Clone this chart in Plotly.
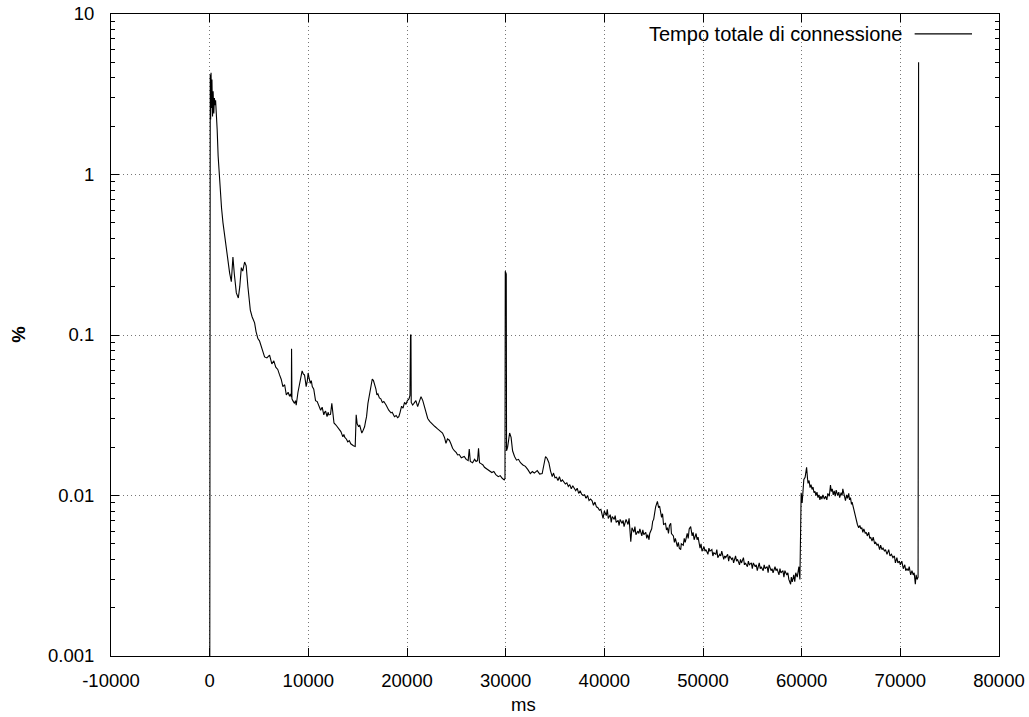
import plotly.graph_objects as go

# Connection-time distribution: time (ms) vs share of connections (%)
t_head = [0, 20, 60, 100, 140, 180, 230, 290, 350, 420, 480, 540, 600, 680, 760, 860,
          940, 1050, 1200, 1350, 1500, 1690, 1850, 2024, 2196, 2358, 2500, 2702, 2904,
          3050, 3208, 3350, 3542, 3700, 3876, 4119, 4300, 4554, 4700, 4888, 5050, 5232,
          5400, 5566, 5800]
pct_head = [0.0001, 3.0, 4.2, 2.2, 4.3, 2.6, 3.9, 2.3, 3.3, 2.4, 3.0, 2.7, 2.9, 2.5, 1.9, 1.3,
            1.07, 0.85, 0.62, 0.5, 0.42, 0.34, 0.29, 0.243, 0.215, 0.306, 0.24, 0.183, 0.17,
            0.2, 0.263, 0.25, 0.285, 0.27, 0.2, 0.143, 0.13, 0.119, 0.105, 0.095, 0.092, 0.0845,
            0.078, 0.073, 0.072]

t_early = [6072, 6300, 6500, 6700, 6900, 7084, 7250, 7420, 7600, 7770, 7950, 8100, 8200,
           8280, 8300, 8320, 8340, 8430, 8600, 8700, 8770, 8950, 9110, 9250, 9370, 9500,
           9610, 9700, 9780, 9900, 9980, 10050, 10200, 10300, 10400, 10550, 10650, 10730,
           10900, 11070, 11250, 11400, 11570, 11650, 11750, 11900, 12000, 12080, 12250,
           12380, 12450, 12600, 12800, 13000, 13150, 13300, 13500, 13600, 13700, 13850,
           14000, 14150, 14300, 14450, 14570, 14750, 14850, 14950, 15100, 15200, 15300,
           15420, 15500, 15600, 15700, 15800, 15900, 16040, 16150, 16250, 16380, 16480,
           16600, 16700, 16850, 16950, 17050, 17200, 17350, 17500, 17650, 17880, 18000,
           18150, 18380, 18500, 18730, 18900, 19050, 19170, 19300, 19450, 19600, 19750,
           19900]
pct_early = [0.075, 0.066, 0.069, 0.063, 0.061, 0.0564, 0.053, 0.0477, 0.049, 0.0423, 0.044,
             0.0415, 0.043, 0.041, 0.082, 0.081, 0.040, 0.039, 0.0375, 0.039, 0.0365, 0.044,
             0.05, 0.056, 0.0597, 0.057, 0.0564, 0.052, 0.0477, 0.052, 0.058, 0.055, 0.05,
             0.052, 0.0477, 0.046, 0.043, 0.039, 0.0385, 0.0358, 0.034, 0.0355, 0.0318, 0.033,
             0.0335, 0.031, 0.033, 0.0318, 0.032, 0.0375, 0.033, 0.0283, 0.0275, 0.0263,
             0.0255, 0.025, 0.0232, 0.024, 0.023, 0.0225, 0.0216, 0.022, 0.021, 0.0205,
             0.0204, 0.0202, 0.0318, 0.028, 0.0268, 0.0275, 0.026, 0.0245, 0.025, 0.026,
             0.0268, 0.029, 0.031, 0.0375, 0.041, 0.045, 0.05, 0.0532, 0.052, 0.05, 0.046,
             0.0423, 0.043, 0.0405, 0.04, 0.038, 0.0385, 0.0366, 0.035, 0.034, 0.0327, 0.033,
             0.031, 0.0315, 0.0305, 0.031, 0.033, 0.036, 0.035, 0.038, 0.037]

t_mid = [20040, 20200, 20300, 20360, 20400, 20430, 20570, 20700, 20900, 21080, 21250, 21420,
         21600, 21750, 21900, 22100, 22300, 22600, 22800, 23100, 23300, 23600, 23800, 23950,
         24100, 24290, 24450, 24620, 24800, 25000, 25130, 25300, 25500, 25800, 26000, 26200,
         26310, 26420, 26650, 26850, 27000, 27150, 27250, 27350, 27500, 27700, 27850, 28000,
         28200, 28400, 28600, 28800, 29000, 29250, 29450, 29650, 29850, 29930, 29960, 30060,
         30090, 30200, 30300, 30400, 30550, 30700, 30900, 31100, 31300, 31500, 31750, 32000,
         32250, 32500, 32700, 32900, 33200, 33450, 33700, 33900, 34040, 34200, 34380, 34550,
         34720, 34850, 35000, 35150, 35300, 35450, 35600, 35750, 35900, 36050, 36200, 36350,
         36500, 36650, 36800, 36950, 37100, 37250, 37400, 37550, 37700, 37850, 38000, 38150,
         38300, 38450, 38600, 38750, 38900, 39050, 39200, 39350, 39500, 39650, 39750]
pct_mid = [0.039, 0.040, 0.042, 0.1, 0.1, 0.038, 0.0366, 0.0375, 0.039, 0.0358, 0.038, 0.0413,
           0.039, 0.0358, 0.033, 0.0302, 0.029, 0.0275, 0.027, 0.026, 0.0255, 0.0245, 0.023,
           0.0211, 0.0225, 0.0221, 0.021, 0.0197, 0.019, 0.0185, 0.0179, 0.018, 0.0172, 0.0175,
           0.0168, 0.0165, 0.0195, 0.0163, 0.016, 0.0168, 0.0163, 0.0165, 0.0197, 0.016, 0.0158,
           0.0155, 0.015, 0.0148, 0.0145, 0.0142, 0.0139, 0.0141, 0.0135, 0.0131, 0.0133,
           0.0128, 0.0125, 0.0128, 0.25, 0.24, 0.019, 0.02, 0.023, 0.0245, 0.023, 0.019, 0.0175,
           0.0166, 0.0168, 0.016, 0.0155, 0.0152, 0.0145, 0.0137, 0.0141, 0.0138, 0.0143,
           0.0136, 0.0137, 0.0155, 0.0175, 0.017, 0.016, 0.0142,
           0.0131, 0.0138, 0.0129, 0.0130, 0.0124, 0.0131, 0.0122, 0.0125, 0.0121, 0.0118,
           0.0120, 0.0114, 0.0117, 0.0110, 0.0115, 0.0111, 0.0107, 0.0111, 0.0103, 0.0107,
           0.0102, 0.0100, 0.0101, 0.0096, 0.0100, 0.0093, 0.0095, 0.0093, 0.0087, 0.0091,
           0.0085, 0.0084, 0.0081, 0.0082, 0.0076]

t_late = [39870, 40000, 40200, 40300, 40400, 40600, 40700, 40800, 41000, 41100, 41200, 41400,
          41500, 41600, 41800, 41900, 42000, 42200, 42400, 42510, 42600, 42680, 42800, 43000,
          43100, 43200, 43400, 43500, 43600, 43800, 43900, 44000, 44200, 44300, 44400, 44530,
          44600, 44800, 44900, 45000, 45200, 45380, 45500, 45600, 45800, 45900, 46000, 46200,
          46300, 46400, 46500, 46600, 46730, 46800, 47000, 47100, 47200, 47400, 47500, 47600,
          47740, 47800, 48000, 48100, 48200, 48400, 48500, 48600, 48750, 48900, 49000, 49100,
          49300, 49400, 49500, 49700, 49800, 49900, 50100, 50200, 50300, 50500, 50600, 50700,
          50900, 51000, 51100, 51300, 51400, 51500, 51700, 51800, 51900, 52100, 52200, 52300,
          52500, 52600, 52700, 52900, 53000, 53100, 53300, 53400, 53500, 53700, 53800, 53900,
          54100, 54200, 54300, 54500, 54600, 54700, 54900, 55000, 55100, 55300, 55400, 55500,
          55700, 55800, 55900, 56100, 56200, 56300, 56500, 56600, 56700, 56900, 57000, 57100,
          57300, 57400, 57500, 57700, 57800, 57900, 58100, 58200, 58300, 58500, 58600, 58700,
          58880, 58950, 59050, 59200, 59300, 59400, 59550, 59650, 59720, 59820]
pct_late = [0.0072, 0.0080, 0.0075, 0.0082, 0.0072, 0.0076, 0.0068, 0.0074, 0.0071, 0.0075,
            0.0068, 0.0070, 0.0065, 0.0071, 0.0067, 0.0070, 0.0064, 0.0071, 0.0066, 0.0072,
            0.0062, 0.00515, 0.0063, 0.0059, 0.0064, 0.0057, 0.0060, 0.0058, 0.0062, 0.0056,
            0.0061, 0.0057, 0.0059, 0.0054, 0.0057, 0.0053, 0.0058, 0.0062, 0.0069, 0.0071,
            0.0085, 0.0092, 0.0084, 0.0086, 0.0073, 0.0077, 0.0066, 0.0067, 0.0061, 0.0063,
            0.0058, 0.0065, 0.0067, 0.0058, 0.0056, 0.0051, 0.0054, 0.0048, 0.0051, 0.0047,
            0.0046, 0.0050, 0.0049, 0.0054, 0.0051, 0.0058, 0.0054, 0.0062, 0.0064, 0.0056,
            0.0059, 0.0053, 0.0058, 0.0053, 0.0055, 0.0047, 0.0050, 0.0045,
            0.0048, 0.0045, 0.0046, 0.0043, 0.0047, 0.0045, 0.0046, 0.0042, 0.0044, 0.0043,
            0.0046, 0.0041, 0.0043, 0.0042, 0.0045, 0.0040, 0.0042, 0.0041, 0.0043, 0.0039,
            0.0042, 0.0040, 0.0041, 0.0038, 0.0042, 0.0039, 0.0040, 0.0037, 0.0040, 0.0038,
            0.0041, 0.0037, 0.0038, 0.0036, 0.0039, 0.0037, 0.0038, 0.0035, 0.0038, 0.0036,
            0.0037, 0.0034, 0.0038, 0.0035, 0.0036, 0.0034, 0.0037, 0.0035, 0.0036, 0.0033,
            0.0037, 0.0034, 0.0035, 0.0033, 0.0036, 0.0034, 0.0035, 0.0032, 0.0035, 0.0033,
            0.0034, 0.0031, 0.0034, 0.0032, 0.0033, 0.0030,
            0.0028, 0.0031, 0.0029, 0.0032, 0.0029, 0.0033, 0.0031, 0.0035, 0.0036, 0.0030]

t_tail = [59900, 59950, 60050, 60150, 60220, 60350, 60450, 60500, 60600, 60650, 60750, 60850,
          60950, 61050, 61150, 61250, 61350, 61450, 61550, 61650, 61750, 61850, 61950, 62050,
          62150, 62300, 62420, 62550, 62650, 62800, 62920, 63000, 63100, 63200, 63300, 63400,
          63500, 63650, 63760, 63850, 64000, 64100, 64170, 64300, 64440, 64550, 64650, 64770,
          64850, 64950, 65050, 65110, 65250, 65350, 65450, 65550, 65650, 65780, 65900, 66000,
          66100, 66200, 66300, 66450, 66550, 66650, 66800, 66900, 67000, 67130, 67250, 67400,
          67500, 67640, 67750, 67900, 68000, 68140, 68250, 68400, 68500, 68650, 68820, 68950,
          69100, 69250, 69400, 69500, 69650, 69750, 69900, 70000, 70150, 70300, 70450, 70550,
          70670, 70800, 70900, 71050, 71180, 71300, 71400, 71520, 71600, 71700, 71800, 71850]
pct_tail = [0.0053, 0.0104, 0.0090, 0.0118, 0.0126, 0.0130, 0.0146, 0.0150, 0.0126, 0.0119,
            0.0124, 0.0112, 0.0117, 0.0109, 0.0113, 0.0104, 0.0106, 0.0100, 0.0105, 0.0097,
            0.0101, 0.0094, 0.0099, 0.0095, 0.0101, 0.0095, 0.0099, 0.0094, 0.0103, 0.0099,
            0.0116, 0.0106, 0.0110, 0.0101, 0.0107, 0.0099, 0.0108, 0.0100, 0.0105, 0.0097,
            0.0104, 0.0100, 0.0110, 0.0102, 0.0093, 0.0101, 0.0096, 0.0103, 0.0094, 0.0097,
            0.0088, 0.0091, 0.0083, 0.0079, 0.0073, 0.0069, 0.0066, 0.0063, 0.0065, 0.0062,
            0.0063, 0.0059, 0.0062, 0.0058, 0.0059, 0.0056, 0.0059, 0.0054, 0.0055, 0.0052,
            0.0055, 0.0050, 0.0051, 0.0049, 0.0050, 0.0046, 0.0049, 0.0046, 0.0047, 0.0045,
            0.0046, 0.0043, 0.0046, 0.0042, 0.0043, 0.0041, 0.0042, 0.0038, 0.0041, 0.0038,
            0.0039, 0.0037, 0.0039, 0.0035, 0.0037, 0.0034, 0.0035, 0.0034, 0.0036, 0.0032,
            0.0034, 0.0032, 0.0033, 0.0028, 0.0032, 0.0030, 0.0031, 5.0]

x_ticks = [-10000, 0, 10000, 20000, 30000, 40000, 50000, 60000, 70000, 80000]
x_tick_text = ["-10000", "0", "10000", "20000", "30000", "40000", "50000", "60000",
               "70000", "80000"]
y_ticks = [0.001, 0.01, 0.1, 1, 10]
y_tick_text = ["0.001", "0.01", "0.1", "1", "10"]

series_name = "Tempo totale di connessione"

t_all = t_head + t_early + t_mid + t_late + t_tail
pct_all = pct_head + pct_early + pct_mid + pct_late + pct_tail

FONT = "Liberation Sans, Arial, sans-serif"
FS = 18.5

fig = go.Figure()
fig.add_trace(go.Scatter(
    x=t_all, y=pct_all, mode="lines", name=series_name,
    line=dict(color="black", width=1.1), showlegend=False,
))

grid_dash = "1px,3px"
fig.update_xaxes(
    range=[-10000, 80000], tickvals=x_ticks, ticktext=x_tick_text, automargin=False,
    ticks="inside", ticklen=8, tickcolor="black", mirror="allticks",
    showline=True, linecolor="black", linewidth=1, ticklabelstandoff=8,
    showgrid=True, gridcolor="#777", gridwidth=1, griddash=grid_dash,
    zeroline=False, tickfont=dict(family=FONT, size=FS, color="black"),
)
fig.update_yaxes(
    type="log", range=[-3, 1], tickvals=y_ticks, ticktext=y_tick_text, automargin=False,
    ticks="inside", ticklen=8, tickcolor="black", mirror="allticks",
    showline=True, linecolor="black", linewidth=1, ticklabelstandoff=12,
    showgrid=True, gridcolor="#777", gridwidth=1, griddash=grid_dash,
    minor=dict(ticks="inside", ticklen=4, tickcolor="black", dtick="D1", showgrid=False),
    zeroline=False, tickfont=dict(family=FONT, size=FS, color="black"),
)

# gnuplot-style key: text followed by the line sample, in the top-right corner
key_y = 0.969
fig.add_annotation(x=0.894, y=key_y, xref="paper", yref="paper", text=series_name,
                   showarrow=False, xanchor="right", yanchor="middle",
                   font=dict(family=FONT, size=20, color="black"))
fig.add_shape(type="line", xref="paper", yref="paper", x0=0.905, x1=0.9696,
              y0=key_y, y1=key_y, line=dict(color="black", width=1.1))

# axis titles
fig.add_annotation(x=0.464, y=-0.0763, xref="paper", yref="paper", text="ms",
                   showarrow=False, xanchor="center", yanchor="middle",
                   font=dict(family=FONT, size=FS, color="black"))
fig.add_annotation(x=-0.105, y=0.5, xref="paper", yref="paper", text="<b>%</b>",
                   showarrow=False, xanchor="center", yanchor="middle", textangle=-90,
                   font=dict(family=FONT, size=FS, color="black"))

fig.update_layout(
    width=1029, height=717,
    margin=dict(l=111, r=30, t=14, b=61),
    paper_bgcolor="white", plot_bgcolor="white",
)

fig.write_html("out.html")
